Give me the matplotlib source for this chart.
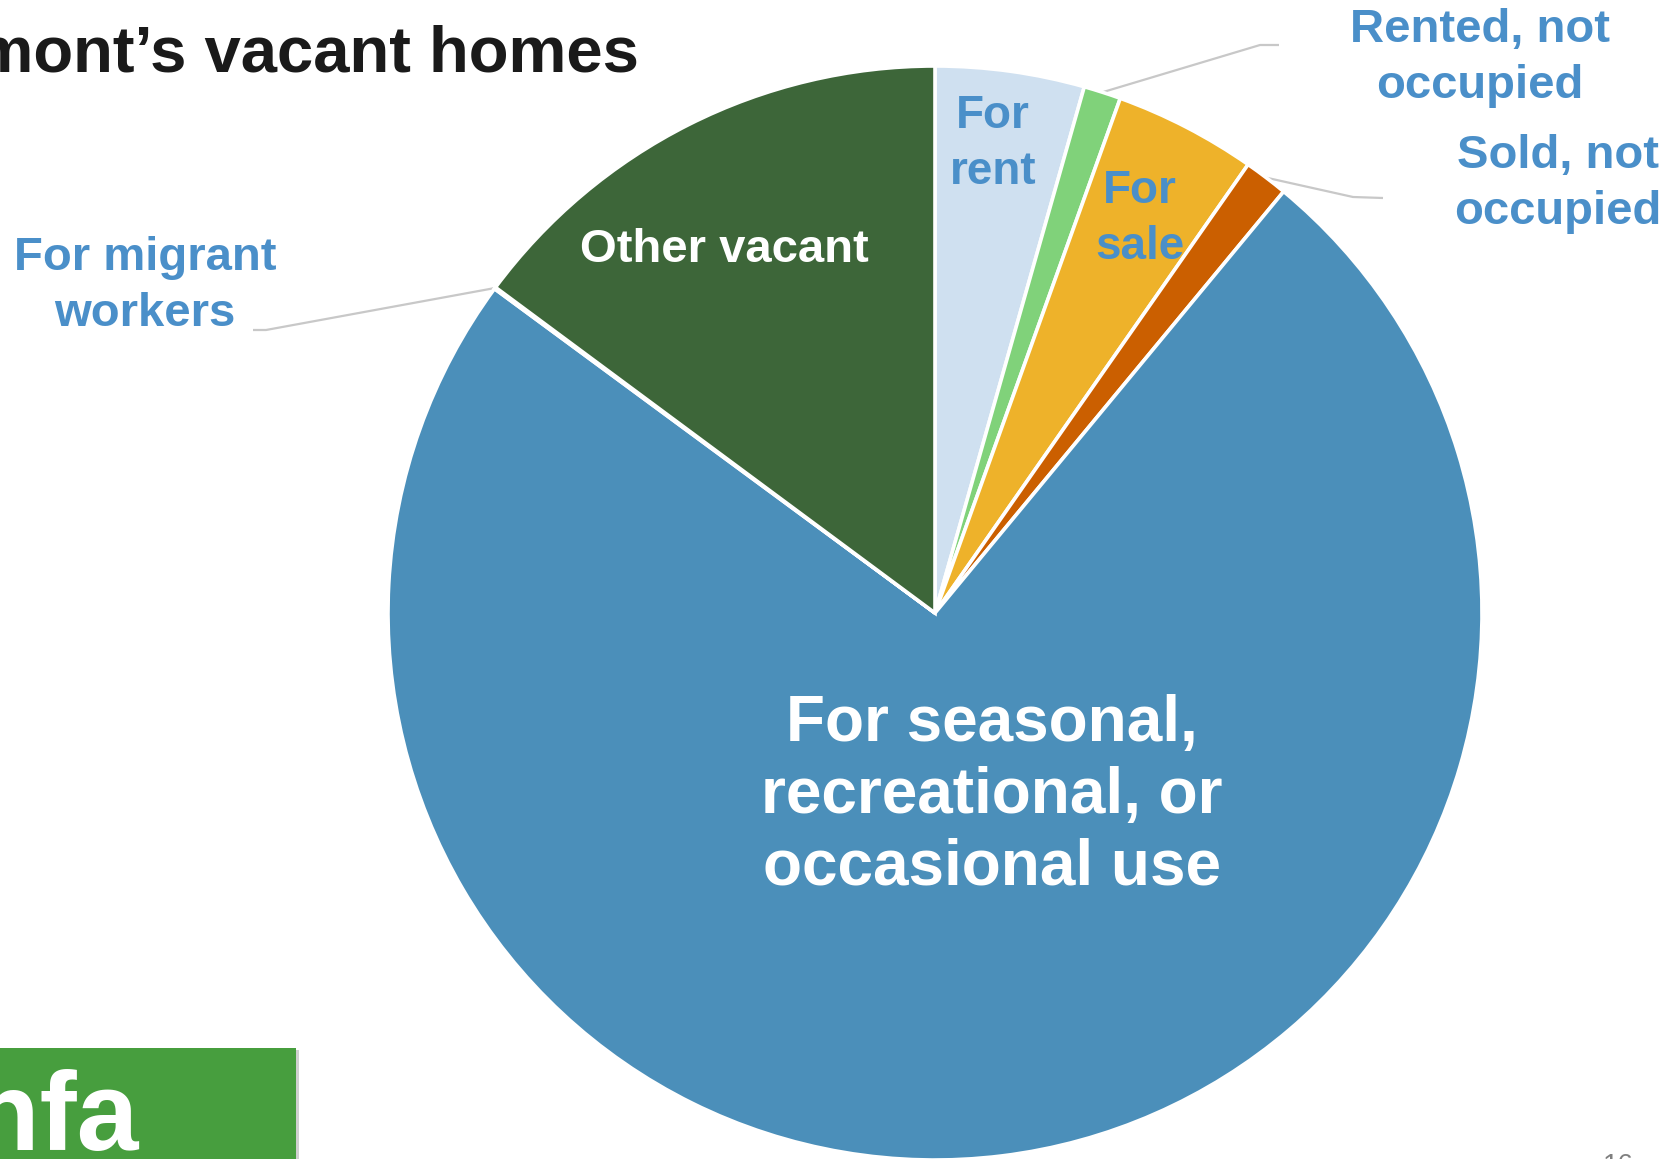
import numpy as np
import matplotlib.pyplot as plt
from matplotlib.patches import Rectangle

plt.rcParams['font.family'] = ['Liberation Sans', 'DejaVu Sans']

# share of Vermont's vacant homes, clockwise from 12 o'clock
categories = ["For rent", "Rented, not occupied", "For sale", "Sold, not occupied",
              "For seasonal, recreational, or occasional use", "For migrant workers",
              "Other vacant"]
shares = [4.4, 1.1, 4.2, 1.3, 74.1, 0.05, 14.85]
colors = ["#CFE0F0", "#80D27A", "#EEB22A", "#CB5F00", "#4B8FBA", "#4B8FBA", "#3D6639"]

W, H = 1681, 1159
BLUE = "#4A8FC9"

fig = plt.figure(figsize=(W / 100, H / 100), dpi=100)
ax = fig.add_axes([0, 0, 1, 1])


def pt(x, y):
    # pixel position (top-left origin) -> data coords
    return x, H - y


cx, cy = pt(935, 613)
R = 547
wedges, _ = ax.pie(shares, colors=colors, startangle=90, counterclock=False,
                   center=(cx, cy), radius=R, frame=True,
                   wedgeprops=dict(edgecolor="white", linewidth=2.6))
ax.set_xlim(0, W)
ax.set_ylim(0, H)
ax.axis("off")

# title (cut by the left edge, as in the slide crop)
ax.text(*pt(639, 71), "Vermont\u2019s vacant homes", ha="right", va="baseline",
        fontsize=47, fontweight="bold", color="#1a1a1a")

# labels inside the pie
ax.text(*pt(993, 144), "For\nrent", ha="center", va="center", fontsize=33,
        fontweight="bold", color=BLUE, linespacing=1.36)
ax.text(*pt(1140, 219), "For\nsale", ha="center", va="center", fontsize=33,
        fontweight="bold", color=BLUE, linespacing=1.36)
ax.text(*pt(724, 250), "Other vacant", ha="center", va="center", fontsize=34,
        fontweight="bold", color="white")
ax.text(*pt(992, 796), "For seasonal,\nrecreational, or\noccasional use", ha="center",
        va="center", fontsize=46, fontweight="bold", color="white", linespacing=1.25)

# outside labels with leader lines
def leader(wedge, elbow, end):
    mid = np.deg2rad((wedge.theta1 + wedge.theta2) / 2)
    sx, sy = cx + R * np.cos(mid), cy + R * np.sin(mid)
    ex, ey = pt(*elbow)
    fx, fy = pt(*end)
    ax.plot([sx, ex, fx], [sy, ey, fy], color="#C8C8C8", lw=1.6, zorder=0.5,
            solid_capstyle="butt")

leader(wedges[1], (1260, 45), (1279, 45))
leader(wedges[3], (1353, 197), (1383, 198))
leader(wedges[5], (266, 330), (253, 330))

ax.text(*pt(1480, 58), "Rented, not\noccupied", ha="center", va="center", fontsize=34,
        fontweight="bold", color=BLUE, linespacing=1.35)
ax.text(*pt(1558, 184), "Sold, not\noccupied", ha="center", va="center", fontsize=34,
        fontweight="bold", color=BLUE, linespacing=1.35)
ax.text(*pt(145, 286), "For migrant\nworkers", ha="center", va="center", fontsize=34,
        fontweight="bold", color=BLUE, linespacing=1.35)

# logo box in the bottom-left corner
ax.add_patch(Rectangle(pt(0, H), 296, H - 1048, facecolor="#479E3E", edgecolor="none",
                       zorder=3))
ax.add_patch(Rectangle(pt(296, H), 3, H - 1050, facecolor="#d0d0d0", edgecolor="none",
                       zorder=2.9))
ax.text(*pt(139, 1150), "vhfa", ha="right", va="baseline", fontsize=80,
        fontweight="heavy", color="white", zorder=4)

# page number (cut by the bottom edge)
ax.text(*pt(1618, 1153), "16", ha="center", va="top", fontsize=20, color="#7f7f7f")

fig.savefig("out.png", dpi=100)
